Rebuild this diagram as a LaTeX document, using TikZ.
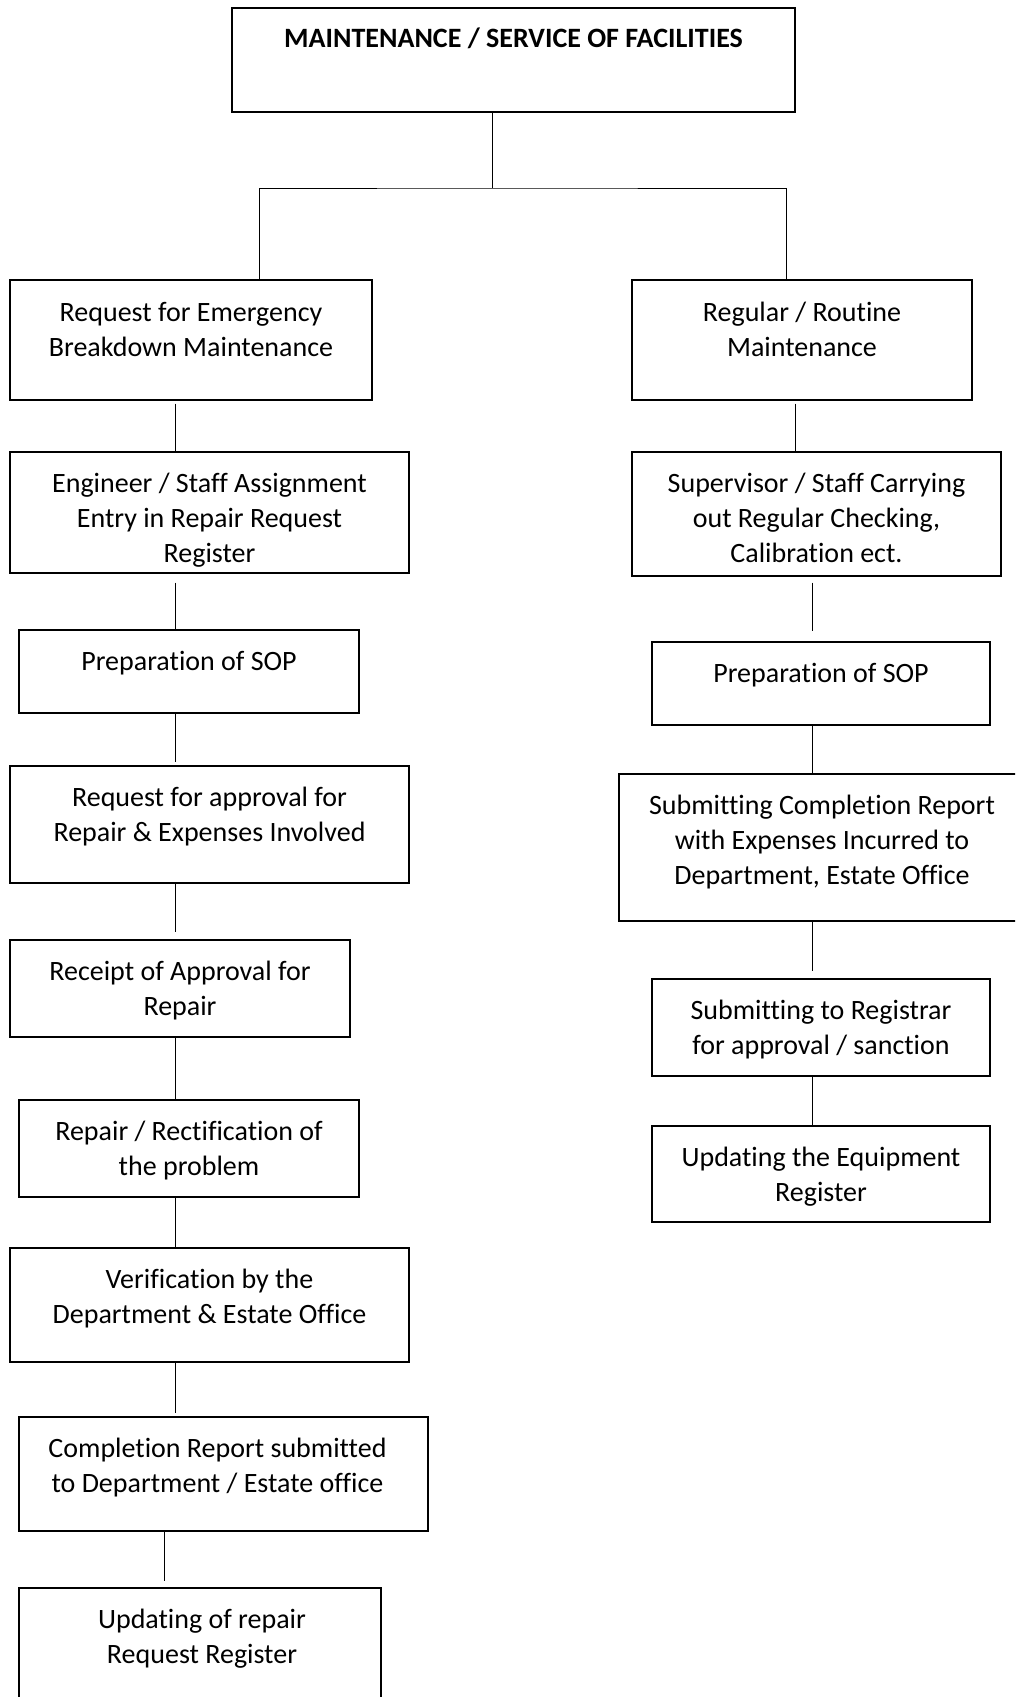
\documentclass[tikz,border=0pt]{standalone}
\usepackage{fontspec}
\setmainfont{Carlito}[Ligatures=NoCommon]
\usepackage{tikz}
\usetikzlibrary{positioning}
\tikzset{
  x=1pt, y=-1pt,
  blk/.style={draw, line width=1.3pt, rectangle, inner sep=0pt},
  txt/.style={inner sep=0pt, align=flush center, text width=600pt,
    font=\fontsize{28}{35}\selectfont, execute at begin node=\strut},
  link/.style={line width=1pt},
}

\begin{document}
\begin{tikzpicture}
  \clip (0,0) rectangle (1015,1697);
  \fill[white] (0,0) rectangle (1015,1697);

  % head
  \node[blk, line width=2pt, minimum width=563pt, minimum height=104pt] (top) at (513.5,60) {};
  \node[txt, font=\fontsize{28}{35}\selectfont\bfseries, below=16pt of top.north] {MAINTENANCE / SERVICE OF FACILITIES};

  % emergency branch
  \node[blk, minimum width=362pt, minimum height=120pt] (e1) at (191,340) {};
  \node[blk, minimum width=399pt, minimum height=121pt] (e2) at (209.5,512.5) {};
  \node[blk, minimum width=340pt, minimum height=83pt] (e3) at (189,671.5) {};
  \node[blk, minimum width=399pt, minimum height=117pt] (e4) at (209.5,824.5) {};
  \node[blk, minimum width=340pt, minimum height=97pt] (e5) at (180,988.5) {};
  \node[blk, minimum width=340pt, minimum height=97pt] (e6) at (189,1148.5) {};
  \node[blk, minimum width=399pt, minimum height=114pt] (e7) at (209.5,1305) {};
  \node[blk, minimum width=409pt, minimum height=114pt] (e8) at (223.5,1474) {};
  \node[blk, minimum width=362pt, minimum height=150pt] (e9) at (200,1663) {};

  \node[txt, below=17pt of e1.north] {Request for Emergency\\Breakdown Maintenance};
  \node[txt, below=16pt of e2.north] {Engineer / Staff Assignment\\Entry in Repair Request\\Register};
  \node[txt, below=16pt of e3.north] {Preparation of SOP};
  \node[txt, below=16pt of e4.north] {Request for approval for\\Repair \& Expenses Involved};
  \node[txt, below=16pt of e5.north] {Receipt of Approval for\\Repair};
  \node[txt, below=16pt of e6.north] {Repair / Rectification of\\the problem};
  \node[txt, below=16pt of e7.north] {Verification by the\\Department \& Estate Office};
  \node[txt, below=16pt of e8.north, xshift=-6pt] {Completion Report submitted\\to Department / Estate office};
  \node[txt, below=16pt of e9.north, xshift=2pt] {Updating of repair\\Request Register};

  % routine branch
  \node[blk, minimum width=340pt, minimum height=120pt] (r1) at (802,340) {};
  \node[blk, minimum width=369pt, minimum height=124pt] (r2) at (816.5,514) {};
  \node[blk, minimum width=338pt, minimum height=83pt] (r3) at (821,683.5) {};
  \node[blk, minimum width=406pt, minimum height=147pt] (r4) at (822,847.5) {};
  \node[blk, minimum width=338pt, minimum height=97pt] (r5) at (821,1027.5) {};
  \node[blk, minimum width=338pt, minimum height=96pt] (r6) at (821,1174) {};

  \node[txt, below=17pt of r1.north] {Regular / Routine\\Maintenance};
  \node[txt, below=16pt of r2.north] {Supervisor / Staff Carrying\\out Regular Checking,\\Calibration ect.};
  \node[txt, below=16pt of r3.north] {Preparation of SOP};
  \node[txt, below=16pt of r4.north] {Submitting Completion Report\\with Expenses Incurred to\\Department, Estate Office};
  \node[txt, below=16pt of r5.north] {Submitting to Registrar\\for approval / sanction};
  \node[txt, below=16pt of r6.north] {Updating the Equipment\\Register};

  % fork
  \coordinate (fork) at (492,188);
  \draw[link] ([xshift=-21.5pt]top.south) -- (fork);
  \draw[link] ([xshift=68pt]e1.north) |- (fork) -| ([xshift=-16pt]r1.north);

  % emergency links
  \draw[link] ([xshift=-16pt, yshift=-3pt]e1.south) -- ([xshift=-34.5pt]e2.north);
  \draw[link] ([xshift=-34.5pt, yshift=-9pt]e2.south) -- ([xshift=-14pt]e3.north);
  \draw[link] ([xshift=-14pt]e3.south) -- ([xshift=-34.5pt, yshift=3pt]e4.north);
  \draw[link] ([xshift=-34.5pt]e4.south) -- ([xshift=-5pt, yshift=7pt]e5.north);
  \draw[link] ([xshift=-5pt]e5.south) -- ([xshift=-14pt]e6.north);
  \draw[link] ([xshift=-14pt]e6.south) -- ([xshift=-34.5pt]e7.north);
  \draw[link] ([xshift=-34.5pt]e7.south) -- ([xshift=-48.5pt, yshift=3pt]e8.north);
  \draw[link] ([xshift=-59.5pt]e8.south) -- ([xshift=-36pt, yshift=6pt]e9.north);

  % routine links
  \draw[link] ([xshift=-7pt, yshift=-3pt]r1.south) -- ([xshift=-21.5pt]r2.north);
  \draw[link] ([xshift=-4.5pt, yshift=-6pt]r2.south) -- ([xshift=-9pt, yshift=10pt]r3.north);
  \draw[link] ([xshift=-9pt]r3.south) -- ([xshift=-10pt]r4.north);
  \draw[link] ([xshift=-10pt]r4.south) -- ([xshift=-9pt, yshift=7pt]r5.north);
  \draw[link] ([xshift=-9pt]r5.south) -- ([xshift=-9pt]r6.north);
\end{tikzpicture}
\end{document}
